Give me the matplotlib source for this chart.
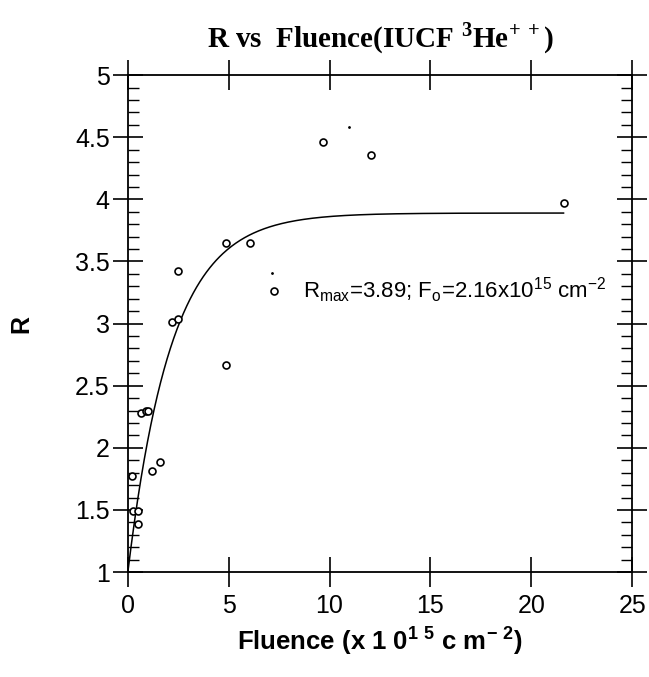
import numpy as np
import matplotlib
matplotlib.use('Agg')
import matplotlib.pyplot as plt
from matplotlib.ticker import MultipleLocator

# measured points (fluence in 1e15 cm^-2, R)
fluence = [0.21, 0.26, 0.48, 0.48, 0.64, 0.88, 1.0, 1.2, 1.58, 2.21, 2.49, 2.49,
           4.89, 6.04, 4.85, 7.23, 9.67, 12.06, 21.63]
R = [1.77, 1.49, 1.49, 1.39, 2.28, 2.30, 2.30, 1.81, 1.89, 3.01, 3.04, 3.42,
     3.65, 3.65, 2.67, 3.26, 4.46, 4.36, 3.97]
# stray specks on the original scan
speck_x = [10.95, 7.13]
speck_y = [4.58, 3.41]

# fit parameters from the annotation
Rmax = 3.89
F0 = 2.16
fit_end = 21.6

plt.rcParams['font.family'] = ['Liberation Sans', 'DejaVu Sans']
fig = plt.figure(figsize=(6.49, 6.77), dpi=100)
ax = fig.add_axes([0.197, 0.155, 0.777, 0.734])

F = np.linspace(0, fit_end, 400)
ax.plot(F, 1 + (Rmax - 1) * (1 - np.exp(-F / F0)), color='black', lw=1.1)
ax.plot(fluence, R, linestyle='none', marker='o', markersize=5,
        markerfacecolor='white', markeredgecolor='black', markeredgewidth=1.2)
ax.plot(speck_x, speck_y, linestyle='none', marker='.', markersize=2, color='black')

ax.set_xlim(0, 25)
ax.set_ylim(1, 5)
ax.xaxis.set_major_locator(MultipleLocator(5))
ax.yaxis.set_minor_locator(MultipleLocator(0.1))
ax.set_yticks([1, 1.5, 2, 2.5, 3, 3.5, 4, 4.5, 5])
ax.set_yticklabels(['1', '1.5', '2', '2.5', '3', '3.5', '4', '4.5', '5'])
ax.tick_params(which='major', direction='inout', length=22, width=1.2,
               top=True, right=True, labelsize=18, pad=2)
ax.tick_params(axis='x', which='major', pad=5)
ax.tick_params(axis='y', which='minor', direction='in', length=8, width=1.0,
               left=True, right=True)
for s in ax.spines.values():
    s.set_linewidth(1.3)

ax.text(8.66, 3.21,
        r'R$_{\mathregular{max}}$=3.89; F$_{\mathregular{o}}$=2.16x10$^{\mathregular{15}}$ cm$^{\mathregular{-2}}$',
        fontsize=16, ha='left', va='baseline')

ax.set_xlabel(r'Fluence (x 1 0$^{\mathregular{1\ 5}}$ c m$^{\mathregular{-\ 2}}$)',
              fontsize=18.5, fontweight='bold', labelpad=4)
ax.set_ylabel('R', fontsize=18, fontweight='bold', labelpad=30)
ax.set_title(r'R vs  Fluence(IUCF $^{\mathregular{3}}$He$^{\mathregular{+\,+}}$)',
             fontsize=21, fontweight='bold', family='Liberation Serif', pad=20)

fig.savefig('out.png', dpi=100)
